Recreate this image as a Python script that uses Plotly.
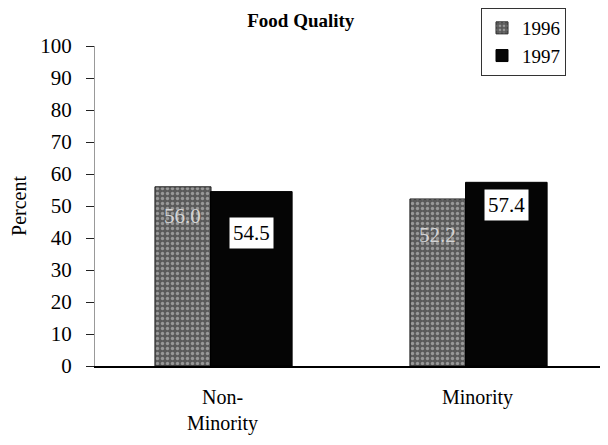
import plotly.graph_objects as go

categories = ["Non-<br>Minority", "Minority"]
years = ["1996", "1997"]
values_1996 = [56.0, 52.2]
values_1997 = [54.5, 57.4]
y_ticks = [0, 10, 20, 30, 40, 50, 60, 70, 80, 90, 100]

serif = "Liberation Serif, Times New Roman, serif"

# label placement (style only): pixel shifts of the value labels
label96_yshift = [-29, -36]
label97_yshift = [-25, -7]

fig = go.Figure()
fig.add_trace(go.Bar(
    name=years[0], x=categories, y=values_1996,
    width=0.22, offset=-0.265,
    marker=dict(color="#5a5a5a", line=dict(color="#222", width=1),
                pattern=dict(shape=".", fgcolor="#d8d8d8", size=5, solidity=0.35)),
))
fig.add_trace(go.Bar(
    name=years[1], x=categories, y=values_1997,
    width=0.32, offset=-0.047,
    marker=dict(color="#050505", line=dict(color="#000", width=1)),
))
for c, v, ys in zip(categories, values_1996, label96_yshift):
    fig.add_annotation(
        x=c, y=v, xref="x", yref="y", xshift=-40, yshift=ys, yanchor="middle",
        text=f"{v:.1f}", showarrow=False,
        font=dict(family=serif, size=21, color="#d4d4d4"),
    )
for c, v, ys in zip(categories, values_1997, label97_yshift):
    fig.add_annotation(
        x=c, y=v, xref="x", yref="y", xshift=29, yshift=ys, yanchor="top",
        text=f"{v:.1f}", showarrow=False,
        font=dict(family=serif, size=21, color="black"),
        bgcolor="white", borderpad=3,
    )

# page body has an 8px margin, so the figure is drawn 8px smaller and offset
fig.update_layout(
    width=600, height=437,
    margin=dict(l=87, r=3, t=38, b=79, autoexpand=False),
    paper_bgcolor="white", plot_bgcolor="white",
    barmode="overlay",
    font=dict(family=serif, size=20, color="black"),
    title=dict(text="<b>Food Quality</b>", x=0.488, xanchor="center",
               y=0.972, yanchor="middle", font=dict(family=serif, size=19)),
    showlegend=True,
    legend=dict(yref="container", xref="container",
                x=0.93, y=1.0, xanchor="right", yanchor="top",
                bgcolor="white", bordercolor="#333", borderwidth=1,
                font=dict(family=serif, size=19), itemwidth=30,
                tracegroupgap=0),
)
fig.update_yaxes(
    range=[0, 100], tickvals=y_ticks, ticks="outside", ticklen=8,
    tickcolor="#222", showgrid=False, zeroline=False,
    showline=True, linecolor="#999", linewidth=1,
    ticklabelstandoff=10,
    title=dict(text="Percent", font=dict(family=serif, size=20), standoff=10),
    tickfont=dict(family=serif, size=21),
)
fig.update_xaxes(
    showgrid=False, showline=True, linecolor="black", linewidth=1.5,
    ticks="", ticklabelstandoff=12, tickfont=dict(family=serif, size=20),
)

fig.write_html("out.html")
